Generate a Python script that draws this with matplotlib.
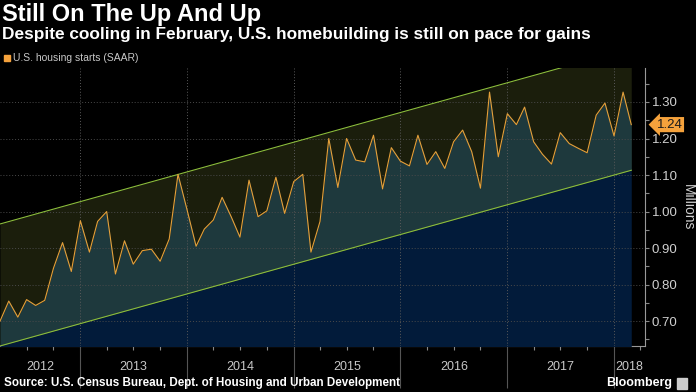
import numpy as np
import pandas as pd
import matplotlib
matplotlib.use("Agg")
import matplotlib.pyplot as plt
import matplotlib.dates as mdates
from matplotlib.patches import Rectangle

plt.rcParams['font.family'] = ['Liberation Sans', 'DejaVu Sans']

# monthly housing starts, SAAR, millions (Mar 2012 - Feb 2018)
months = pd.date_range('2012-03-31', '2018-02-28', freq='ME')
starts = [
    0.700, 0.755, 0.711, 0.759, 0.743, 0.757, 0.845, 0.915, 0.836, 0.975,
    0.889, 0.973, 1.000, 0.829, 0.920, 0.856, 0.893, 0.897, 0.864, 0.925,
    1.102, 1.005, 0.905, 0.952, 0.977, 1.039, 0.986, 0.930, 1.086, 0.986,
    1.002, 1.094, 0.995, 1.082, 1.102, 0.889, 0.973, 1.200, 1.066, 1.200,
    1.141, 1.136, 1.209, 1.062, 1.175, 1.138, 1.125, 1.209, 1.129, 1.164,
    1.118, 1.191, 1.223, 1.164, 1.064, 1.327, 1.150, 1.268, 1.238, 1.286,
    1.191, 1.157, 1.130, 1.216, 1.186, 1.173, 1.161, 1.264, 1.297, 1.207,
    1.327, 1.238,
]
# trend channel, value at first and last month
upper_ends = [0.966, 1.447]
lower_ends = [0.632, 1.113]
years = [2012, 2013, 2014, 2015, 2016, 2017, 2018]
last_label = '1.24'

x = mdates.date2num(months)
upper = np.interp(x, [x[0], x[-1]], upper_ends)
lower = np.interp(x, [x[0], x[-1]], lower_ends)

W, H = 696, 392
fig = plt.figure(figsize=(W / 100, H / 100), dpi=100, facecolor='black')
ax = fig.add_axes([0, 1 - 346 / H, 645 / W, 278 / H])
ax.set_facecolor('black')

ymin, ymax = 0.632, 1.393
ax.fill_between(x, lower, upper, color='#1b1e0c', lw=0, zorder=1)
ax.fill_between(x, lower, starts, color='#1e393d', lw=0, zorder=2)
ax.fill_between(x, ymin - 0.1, lower, color='#021b3a', lw=0, zorder=3)
ax.plot(x, upper, color='#8cbd3c', lw=0.8, zorder=5)
ax.plot(x, lower, color='#8cbd3c', lw=0.8, zorder=5)
ax.plot(x, starts, color='#e5a03a', lw=0.8, zorder=6)

x_left = mdates.date2num(pd.Timestamp('2012-03-31'))
x_right = mdates.date2num(pd.Timestamp('2018-04-16'))
ax.set_xlim(x_left, x_right)
ax.set_ylim(ymin, ymax)

# year boundaries
bounds = [mdates.date2num(pd.Timestamp(f'{y - 1}-12-31')) for y in years]
for b in bounds[1:]:
    ax.axvline(b, color='#5a5a5a', lw=0.7, ls=(0, (1, 2)), zorder=4)
ax.set_xticks(bounds[1:])
ax.set_xticklabels([])
ax.tick_params(axis='x', which='major', length=30, width=0.8, color='#555555')
quarters = pd.date_range('2012-06-30', '2018-03-31', freq='3ME')
ax.set_xticks(mdates.date2num(quarters), minor=True)
ax.tick_params(axis='x', which='minor', length=3, width=0.8, color='#888888')

edges = [x_left] + bounds[1:] + [x_right]
for yr, a, b in zip(years, edges[:-1], edges[1:]):
    ax.text((a + b) / 2, -21 / 278, str(yr), transform=ax.get_xaxis_transform(),
            ha='center', va='center', color='#c8c8c8', fontsize=9)

# right axis
ax.yaxis.tick_right()
ax.set_yticks(np.arange(0.7, 1.31, 0.1))
ax.set_yticks(np.arange(0.65, 1.36, 0.05), minor=True)
ax.yaxis.set_major_formatter(matplotlib.ticker.FormatStrFormatter('%.2f'))
ax.tick_params(axis='y', which='both', length=3, width=0.8, color='#888888',
               labelcolor='#d0d0d0', labelsize=9.5, pad=2)
for t in ax.get_yticks():
    ax.axhline(t, color='#4a4a4a', lw=0.7, ls=(0, (1, 2)), zorder=4)

for side in ['top', 'left']:
    ax.spines[side].set_visible(False)
ax.spines['right'].set_color('#999999')
ax.spines['bottom'].set_color('#999999')
fig.text(688 / W, 1 - 207 / H, 'Millions', color='#d0d0d0', fontsize=10,
         rotation=-90, ha='center', va='center')

# last value marker
ax.text(1.018, starts[-1], last_label, transform=ax.get_yaxis_transform(),
        ha='left', va='center', color='#1a1a1a', fontsize=9.5,
        bbox=dict(boxstyle='larrow,pad=0.12', fc='#f5a23c', ec='none'),
        clip_on=False, zorder=10)

# header
fig.text(2 / W, 1 - 14 / H, 'Still On The Up And Up', color='white',
         fontsize=17, fontweight='bold', va='center')
fig.text(2 / W, 1 - 35 / H,
         'Despite cooling in February, U.S. homebuilding is still on pace for gains',
         color='white', fontsize=12.4, fontweight='bold', va='center')
fig.patches.append(Rectangle((4 / W, 1 - 61 / H), 6 / W, 6 / H, color='#f5a23c',
                             transform=fig.transFigure, figure=fig))
fig.text(13 / W, 1 - 58 / H, 'U.S. housing starts (SAAR)', color='#c8c8c8',
         fontsize=7.5, va='center')

# footer
fig.text(4 / W, 1 - 383 / H,
         'Source: U.S. Census Bureau, Dept. of Housing and Urban Development',
         color='white', fontsize=8.4, fontweight='bold', va='center')
fig.text(672 / W, 1 - 383 / H, 'Bloomberg', color='white', fontsize=9,
         fontweight='bold', va='center', ha='right')
fig.patches.append(Rectangle((677 / W, 1 - 389 / H), 10 / W, 11 / H, color='#cccccc',
                             transform=fig.transFigure, figure=fig))

fig.savefig('out.png', dpi=100, facecolor='black')
